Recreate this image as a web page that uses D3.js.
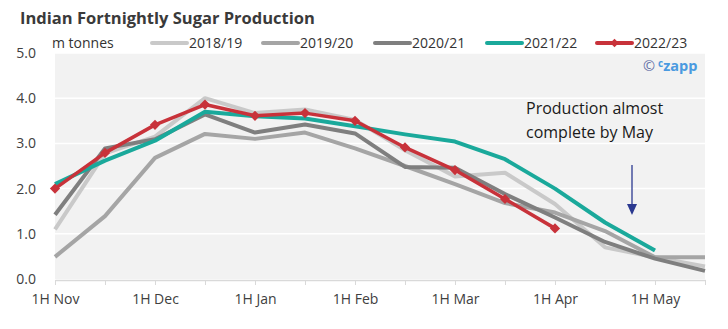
<!DOCTYPE html>
<html>
<head>
<meta charset="utf-8">
<script src="https://cdn.jsdelivr.net/npm/d3@7"></script>
<style>
  body { margin: 0; background: #fff; }
  svg { font-family: "Open Sans", sans-serif; }
</style>
</head>
<body>
<svg></svg>
<script>
let width = 728;
let height = 329;

// fortnights, Nov to May
let periods = ['1H Nov', '2H Nov', '1H Dec', '2H Dec', '1H Jan', '2H Jan', '1H Feb',
    '2H Feb', '1H Mar', '2H Mar', '1H Apr', '2H Apr', '1H May', '2H May'];
let yTicks = [0, 1, 2, 3, 4, 5];

let s2018 = [1.1, 2.78, 3.15, 4.0, 3.67, 3.75, 3.52, 2.85, 2.27, 2.35, 1.66, 0.7, 0.48, 0.28];
let s2019 = [0.49, 1.39, 2.68, 3.21, 3.1, 3.24, 2.89, 2.5, 2.1, 1.68, 1.47, 1.06, 0.48, 0.48];
let s2020 = [1.42, 2.89, 3.09, 3.64, 3.24, 3.42, 3.22, 2.48, 2.46, 1.88, 1.36, 0.82, 0.45, 0.18];
let s2021 = [2.1, 2.62, 3.06, 3.7, 3.6, 3.55, 3.38, 3.2, 3.04, 2.65, 2.0, 1.25, 0.63];
let s2022 = [2.0, 2.79, 3.41, 3.86, 3.61, 3.67, 3.5, 2.91, 2.41, 1.77, 1.12];

let seriesNames = ['2018/19', '2019/20', '2020/21', '2021/22', '2022/23'];
let seriesValues = [s2018, s2019, s2020, s2021, s2022];
let colors = ['#c9c9c9', '#a5a5a5', '#7f7f7f', '#1aa99b', '#c8323a'];

let margin = {top: 53, right: 23, bottom: 50, left: 55};

let svg = d3.select('svg')
    .attr('width', width)
    .attr('height', height);

let x = d3.scalePoint()
    .domain(periods)
    .range([margin.left, width - margin.right]);

let y = d3.scaleLinear()
    .domain([0, 5])
    .range([height - margin.bottom, margin.top]);

// plot background
svg.append('rect')
    .attr('x', margin.left)
    .attr('y', margin.top)
    .attr('width', width - margin.left - margin.right)
    .attr('height', height - margin.top - margin.bottom)
    .attr('fill', '#f2f2f2');

// white gridlines
svg.append('g')
    .selectAll('line')
    .data(yTicks.slice(1))
    .enter()
    .append('line')
    .attr('x1', margin.left)
    .attr('x2', width - margin.right)
    .attr('y1', d => y(d))
    .attr('y2', d => y(d))
    .attr('stroke', '#fff')
    .attr('stroke-width', 1.5);

// y axis labels
let yAxis = svg.append('g')
    .attr('transform', `translate(${margin.left - 16},0)`)
    .call(d3.axisLeft(y).tickValues(yTicks).tickFormat(d3.format('.1f')).tickSize(0));
yAxis.select('.domain').remove();
yAxis.selectAll('text')
    .attr('font-size', 14)
    .attr('font-family', '"Open Sans", sans-serif')
    .attr('fill', '#404040')
    .attr('dx', 0);

// x axis
let xAxis = svg.append('g')
    .attr('transform', `translate(0,${height - margin.bottom + 1})`)
    .call(d3.axisBottom(x)
        .tickFormat(d => d.startsWith('1H') ? d : '')
        .tickSize(5)
        .tickSizeOuter(0));
xAxis.select('.domain')
    .attr('stroke', '#d9d9d9')
    .attr('stroke-width', 1.5);
xAxis.selectAll('.tick line')
    .attr('stroke', '#d9d9d9');
xAxis.selectAll('text')
    .attr('font-size', 14)
    .attr('font-family', '"Open Sans", sans-serif')
    .attr('fill', '#404040')
    .attr('dy', '1.15em');

// lines
let line = d3.line()
    .x((d, i) => x(periods[i]))
    .y(d => y(d));

svg.append('g')
    .selectAll('path')
    .data(seriesValues)
    .enter()
    .append('path')
    .attr('d', d => line(d))
    .attr('fill', 'none')
    .attr('stroke', (d, i) => colors[i])
    .attr('stroke-width', (d, i) => i === 4 ? 3.5 : 4)
    .attr('stroke-linejoin', 'round');

// diamond markers for the current season (rotated squares)
let diamond = d3.symbol().type(d3.symbolSquare).size(52);
svg.append('g')
    .selectAll('path')
    .data(s2022)
    .enter()
    .append('path')
    .attr('d', diamond)
    .attr('transform', (d, i) => `translate(${x(periods[i])},${y(d)}) rotate(45)`)
    .attr('fill', colors[4]);

// title and unit
svg.append('text')
    .attr('x', 20)
    .attr('y', 24)
    .attr('font-size', 16.5)
    .attr('font-weight', 'bold')
    .attr('fill', '#3a3a3a')
    .text('Indian Fortnightly Sugar Production');

svg.append('text')
    .attr('x', 52)
    .attr('y', 48)
    .attr('font-size', 14)
    .attr('fill', '#333')
    .text('m tonnes');

// legend
let legendX = [152, 263, 375, 487, 597];
let legend = svg.append('g')
    .selectAll('g')
    .data(seriesNames)
    .enter()
    .append('g')
    .attr('transform', (d, i) => `translate(${legendX[i]},43)`);

legend.append('line')
    .attr('x1', 0)
    .attr('x2', 35)
    .attr('stroke', (d, i) => colors[i])
    .attr('stroke-width', 4)
    .attr('stroke-linecap', 'round');

legend.filter((d, i) => i === 4)
    .append('path')
    .attr('d', d3.symbol().type(d3.symbolSquare).size(36))
    .attr('transform', 'translate(17.5,0) rotate(45)')
    .attr('fill', colors[4]);

legend.append('text')
    .attr('x', 37)
    .attr('y', 5)
    .attr('font-size', 14)
    .attr('fill', '#333')
    .text(d => d);

// annotation
let note = svg.append('text')
    .attr('font-size', 16)
    .attr('fill', '#1a1a1a');
note.append('tspan').attr('x', 526).attr('y', 114).text('Production almost');
note.append('tspan').attr('x', 526).attr('y', 138).text('complete by May');

let arrowX = 632;
svg.append('line')
    .attr('x1', arrowX)
    .attr('x2', arrowX)
    .attr('y1', 165)
    .attr('y2', 206)
    .attr('stroke', '#2b3990')
    .attr('stroke-width', 1.3);
svg.append('path')
    .attr('d', `M${arrowX - 5},204 L${arrowX + 5},204 L${arrowX},215 Z`)
    .attr('fill', '#2b3990');

// logo
let logo = svg.append('text')
    .attr('x', 643)
    .attr('y', 71)
    .attr('font-size', 14.5);
logo.append('tspan').attr('fill', '#6673a8').text('©');
logo.append('tspan').attr('dx', 3).attr('dy', -4).attr('font-size', 10)
    .attr('font-weight', 'bold').attr('fill', '#4a9ae0').text('c');
logo.append('tspan').attr('dy', 4).attr('font-weight', 'bold')
    .attr('fill', '#4a9ae0').text('zapp');
</script>
</body>
</html>
